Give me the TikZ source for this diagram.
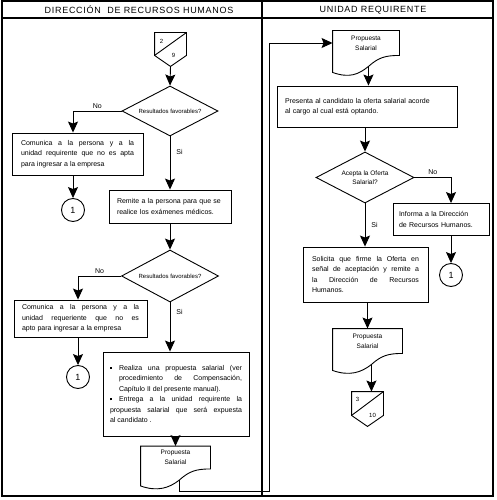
\documentclass[tikz,border=0pt]{standalone}
\usepackage{fontspec}
\setmainfont{Liberation Sans}
\newfontfamily\headfont[LetterSpace=8]{Liberation Sans}
\usepackage{tikz}
\usetikzlibrary{calc}
\usetikzlibrary{arrows.meta,shapes.geometric}
\tolerance=9999
\hyphenpenalty=10000
\newcommand{\bul}{\hangindent=9pt\hangafter=1\makebox[9pt][l]{\rule[1.5pt]{2.2pt}{2.2pt}}}

\begin{document}
\begin{tikzpicture}[x=1pt,y=-1pt,line width=0.9pt,
  arr/.style={-{Stealth[length=11pt,width=10pt,inset=2pt]}},
  lanehead/.style={font=\headfont\fontsize{9}{11}\selectfont,inner sep=0pt},
  proc/.style={draw,inner ysep=3pt,font=\fontsize{7}{10.5}\selectfont},
  dec/.style={diamond,draw,aspect=2,inner sep=0pt,align=center,font=\fontsize{6}{8}\selectfont},
  conn/.style={circle,draw,minimum size=23pt,inner sep=0pt,font=\fontsize{9}{10}\selectfont},
  offpage/.style={minimum width=31pt,minimum height=22pt,inner sep=0pt},
  doc/.style={minimum width=69pt,minimum height=22pt,inner sep=0pt,align=center,font=\fontsize{6.5}{10}\selectfont},
  lbl/.style={inner sep=1pt,font=\fontsize{7}{8}\selectfont},
  num/.style={inner sep=0pt,font=\fontsize{6}{7}\selectfont}]
\useasboundingbox (0,0) rectangle (496,500);

% frame and lanes
\draw[line width=1.2pt] (2,1) rectangle (493,496);
\draw[line width=1.2pt] (2,18) -- (493,18);
\draw[line width=1.2pt] (262,1) -- (262,496);
\node[lanehead] (headL) at (139,10) {DIRECCIÓN\ \ DE RECURSOS HUMANOS};
\node[lanehead] (headR) at (373,10) {UNIDAD REQUIRENTE};

% left lane
\node[offpage] (in29) at (170.5,44) {};
\node[dec,minimum width=96pt,minimum height=50pt] (res1) at (170,111) {Resultados favorables?};
\node[proc,align=justify,text width=113pt,inner xsep=9pt,minimum height=42pt] (com1) at (77.5,154) {Comunica a la persona y a la\linebreak unidad requirente que no es apta\linebreak para ingresar a la empresa};
\node[conn] (one1) at (73,210) {1};
\node[proc,align=left,text width=106pt,inner xsep=8pt,minimum height=33pt] (rem) at (170,206.5) {Remite a la persona para que se\\ realice los exámenes médicos.};
\node[dec,minimum width=97pt,minimum height=52pt] (res2) at (170,276) {Resultados favorables?};
\node[proc,align=justify,text width=117pt,inner xsep=8pt,minimum height=37pt] (com2) at (80.5,318.5) {Comunica a la persona y a la\linebreak unidad requeriente que no es\linebreak apto para ingresar a la empresa};
\node[conn] (one2) at (78,377) {1};
\node[proc,align=justify,text width=132pt,inner xsep=7pt,minimum height=84pt] (prop) at (176,394) {\bul Realiza una propuesta salarial (ver\linebreak procedimiento de Compensación,\linebreak Capítulo II del presente manual).\par\bul Entrega a la unidad requirente la\linebreak propuesta salarial que será expuesta\linebreak al candidato .};
\node[doc] (docL) at (175.5,457.5) {Propuesta\\ Salarial};

% right lane
\node[doc,minimum width=66pt,minimum height=24pt] (docR1) at (366,43) {Propuesta\\ Salarial};
\node[proc,align=left,text width=164pt,inner xsep=8pt,minimum height=41pt] (pres) at (367,106.5) {Presenta al candidato la oferta salarial acorde\\ al cargo al cual está optando.};
\node[dec,minimum width=98pt,minimum height=51pt,font=\fontsize{6.5}{9}\selectfont] (acep) at (365,177.5) {Acepta la Oferta\\ Salarial?};
\node[proc,align=left,text width=84pt,inner xsep=6pt,minimum height=32pt] (inf) at (441,219.5) {Informa a la Dirección\\ de Recursos Humanos.};
\node[conn] (one3) at (451,275) {1};
\node[proc,align=justify,text width=107pt,inner xsep=9pt,minimum height=55pt] (sol) at (365.5,274.5) {Solicita que firme la Oferta en\linebreak señal de aceptación y remite a\linebreak la Dirección de Recursos\linebreak Humanos.};
\node[doc,minimum height=24pt] (docR2) at (367.5,341) {Propuesta\\ Salarial};
\node[offpage,minimum height=23pt] (out310) at (367.5,403.5) {};

% off-page connectors
\foreach \oc in {in29,out310} {
  \draw (\oc.north west) -- (\oc.north east) -- (\oc.south east) -- ($(\oc.south)+(0,11)$) coordinate (\oc-tip) -- (\oc.south west) -- cycle;
  \draw (\oc.south west) -- (\oc.north east);
}
\node[num] (in29a) at ($(in29.north west)+(7,9)$) {2};
\node[num] (in29b) at ($(in29.south)+(3,0)$) {9};
\node[num] (out310a) at ($(out310.north west)+(6,8)$) {3};
\node[num] (out310b) at ($(out310.south)+(5,0)$) {10};

% documents with wavy bottom
\foreach \dc in {docL,docR1,docR2} {
  \draw (\dc.north west) -- (\dc.north east) -- (\dc.south east)
    .. controls +(-14,0) and +(10,-9) .. ++(-31,11) coordinate (\dc-w)
    .. controls +(-10,8) and +(17,6) .. ($(\dc.south west)+(0,17)$) -- cycle;
}

% flow, left lane
\draw[arr] (in29-tip) -- (res1.north);
\draw[arr] (res1.west) -| (com1.north -| one1) node[lbl,pos=0.25,above=1pt] (no1) {No};
\draw[arr] (com1.south -| one1) -- (one1.north);
\draw[arr] (res1.south) -- (rem.north) node[lbl,pos=0.3,right=5pt] (si1) {Si};
\draw[arr] (rem.south) -- (res2.north);
\draw[arr] (res2.west) -| (com2.north -| one2) node[lbl,pos=0.25,above=1pt] (no2) {No};
\draw[arr] (com2.south -| one2) -- (one2.north);
\draw[arr] (res2.south) -- (prop.north -| res2.south) node[lbl,pos=0.2,right=5pt] (si2) {Si};
\draw[arr] (prop.south -| docL) -- (docL.north);

% back over to the other lane
\coordinate (turn) at (269,491);
\draw[arr] (docL-w) |- (turn) |- (docR1.west);

% flow, right lane
\draw[arr] (docR1-w) -- (docR1-w |- pres.north);
\draw[arr] (pres.south -| acep) -- (acep.north);
\draw[arr] (acep.east) -| (inf.north -| one3) node[lbl,pos=0.25,above=1pt] (no3) {No};
\draw[arr] (inf.south -| one3) -- (one3.north);
\draw[arr] (acep.south) -- (sol.north -| acep.south) node[lbl,pos=0.5,right=5pt] (si3) {Si};
\draw[arr] (sol.south -| docR2) -- (docR2.north);
\draw[arr] (docR2-w) -- (docR2-w |- out310.north);
\end{tikzpicture}
\end{document}
